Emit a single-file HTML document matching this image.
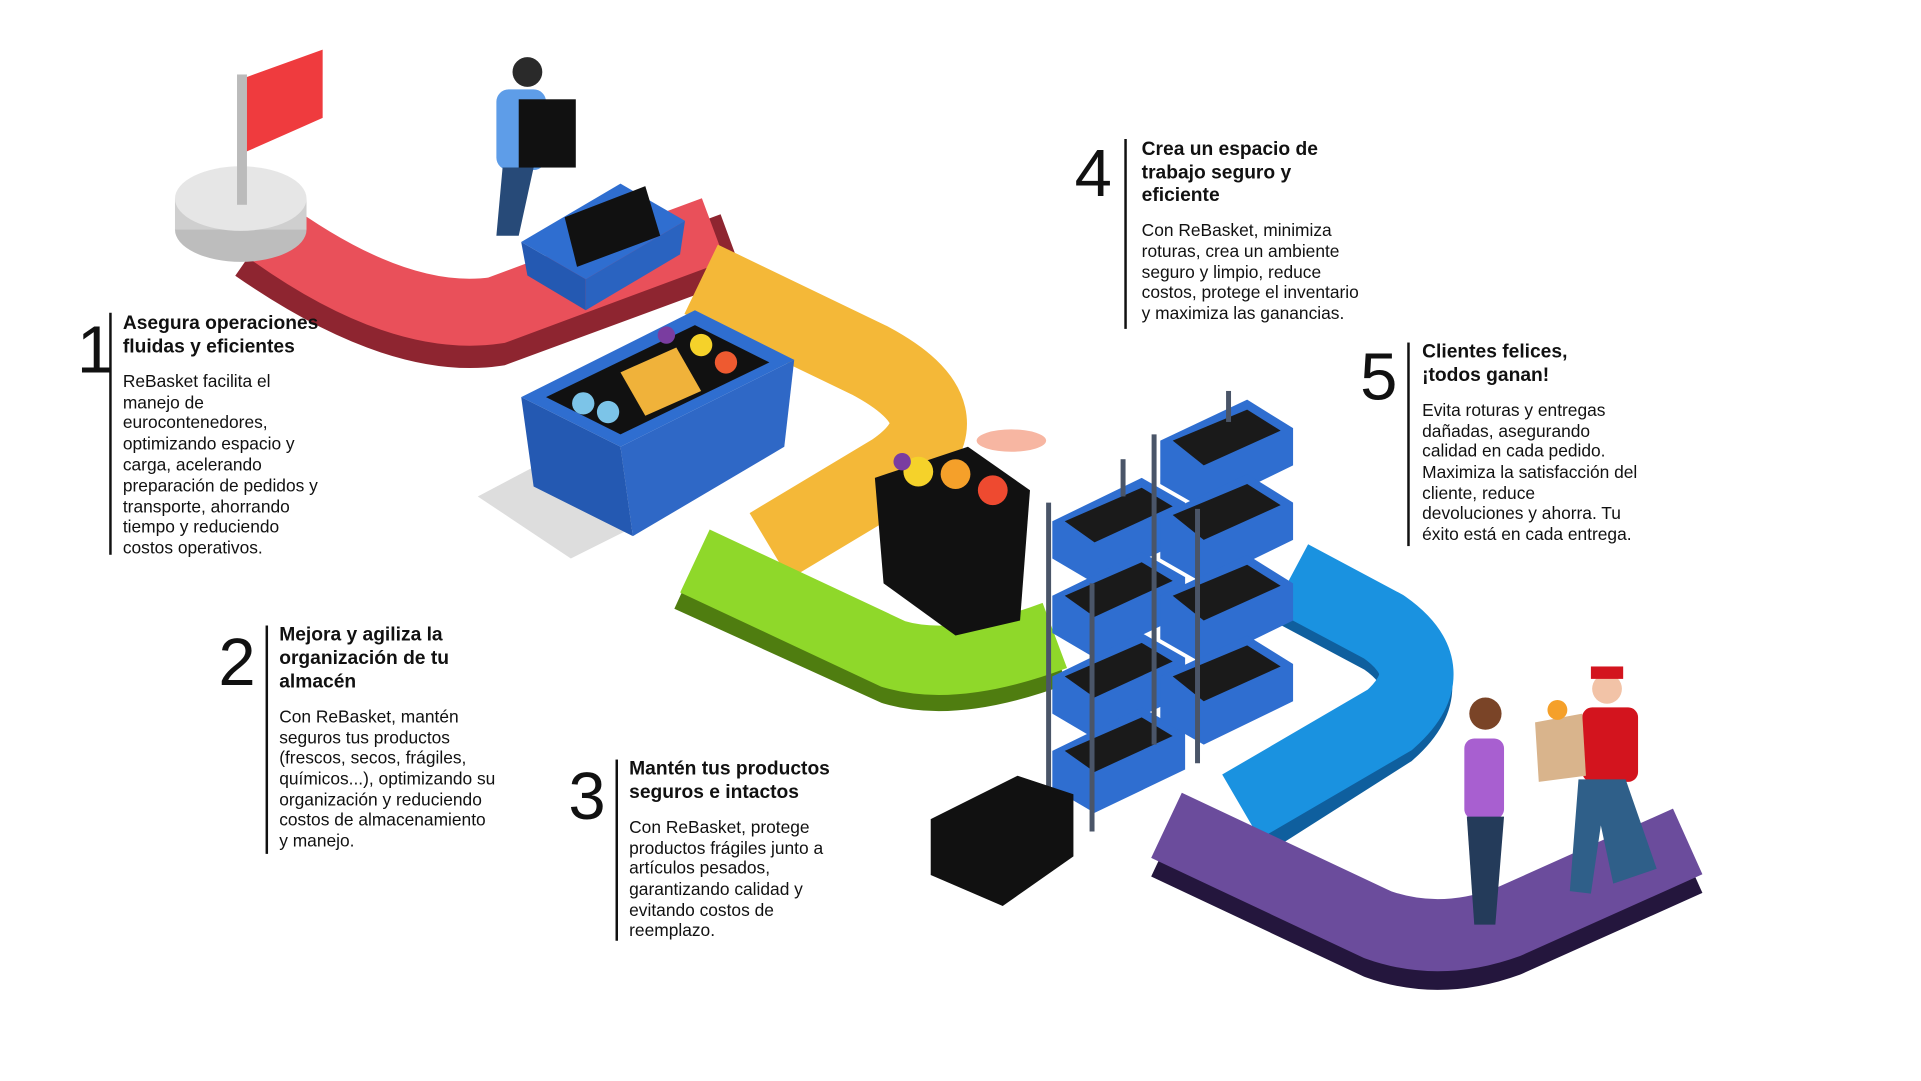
<!DOCTYPE html>
<html><head><meta charset="utf-8"><style>
html,body{margin:0;padding:0;background:#fff;overflow:hidden}
svg{display:block}
text{font-family:"Liberation Sans",sans-serif;fill:#111}
.h{font-weight:bold;font-size:15.5px}
.b{font-size:14px}
.n{font-size:54px}
</style></head><body>
<svg width="1921" height="1081" viewBox="0 0 1548 871" preserveAspectRatio="none" xmlns="http://www.w3.org/2000/svg">
<rect width="1548" height="871" fill="#fff"/>
<!-- red road -->
<path d="M205 200 Q 320 280 400 268 L 590 198" fill="none" stroke="#8e2530" stroke-width="54"/>
<path d="M212 183 Q 320 262 400 250 L 575 185" fill="none" stroke="#e9505a" stroke-width="54"/>
<!-- yellow -->
<path d="M565 225 L 700 290 Q 785 335 720 380 L 620 440" fill="none" stroke="#f4b838" stroke-width="62"/>
<!-- green -->
<path d="M555 465 L 720 540 Q 770 555 850 525" fill="none" stroke="#4f7d10" stroke-width="56"/>
<path d="M560 452 L 720 527 Q 770 542 850 512" fill="none" stroke="#8fd82a" stroke-width="56"/>
<!-- blue -->
<path d="M1040 475 L 1115 515 Q 1165 550 1120 590 L 1010 660" fill="none" stroke="#0f5f9e" stroke-width="58"/>
<path d="M1040 465 L 1115 505 Q 1165 540 1120 580 L 1000 650" fill="none" stroke="#1a92e0" stroke-width="60"/>
<!-- purple -->
<path d="M940 680 L 1110 760 Q 1160 778 1215 758 L 1360 693" fill="none" stroke="#24163d" stroke-width="58"/>
<path d="M940 665 L 1110 745 Q 1160 763 1215 743 L 1360 678" fill="none" stroke="#6b4c9c" stroke-width="58"/>
<!-- flag pedestal -->
<ellipse cx="194" cy="185" rx="53" ry="26" fill="#bdbdbd"/>
<rect x="141" y="160" width="106" height="25" fill="#cfcfcf"/>
<ellipse cx="194" cy="160" rx="53" ry="26" fill="#e6e6e6"/>
<rect x="191" y="60" width="8" height="105" fill="#bbb"/>
<polygon points="199,62 260,40 260,95 199,122" fill="#ef3b3e"/>
<!-- person 1 -->
<circle cx="425" cy="58" r="12" fill="#2a2a2a"/>
<rect x="400" y="72" width="40" height="65" rx="10" fill="#5e9de8"/>
<polygon points="405,135 430,135 418,190 400,190" fill="#274a78"/>
<rect x="418" y="80" width="46" height="55" fill="#111"/>
<!-- crate on red -->
<polygon points="420,195 500,148 552,178 472,225" fill="#2f6ed0"/>
<polygon points="420,195 472,225 472,250 425,222" fill="#2459b2"/>
<polygon points="472,225 552,178 548,205 472,250" fill="#2a63c0"/>
<polygon points="455,175 520,150 532,190 465,215" fill="#111"/>
<!-- big crate -->
<polygon points="385,400 460,450 560,400 480,350" fill="#ddd"/>
<polygon points="420,320 560,250 640,290 500,360" fill="#2f6ed0"/>
<polygon points="420,320 500,360 510,432 430,392" fill="#2459b2"/>
<polygon points="500,360 640,290 632,360 510,432" fill="#2f68c6"/>
<polygon points="440,320 560,262 620,292 500,350" fill="#111"/>
<polygon points="500,300 545,280 565,315 520,335" fill="#f0b23a"/>
<circle cx="470" cy="325" r="9" fill="#7cc4e8"/><circle cx="490" cy="332" r="9" fill="#7cc4e8"/>
<circle cx="565" cy="278" r="9" fill="#f5d22a"/><circle cx="585" cy="292" r="9" fill="#ee5a30"/>
<circle cx="537" cy="270" r="7" fill="#7a3da0"/>
<!-- center basket -->
<polygon points="705,385 780,360 830,395 822,500 770,512 712,470" fill="#111"/>
<circle cx="740" cy="380" r="12" fill="#f5d22a"/><circle cx="770" cy="382" r="12" fill="#f5a02a"/><circle cx="800" cy="395" r="12" fill="#ee4a30"/>
<circle cx="727" cy="372" r="7" fill="#7a3da0"/>
<ellipse cx="815" cy="355" rx="28" ry="9" fill="#f7b6a2"/>
<!-- shelves -->
<g fill="#2f6ed0">
<polygon points="848,420 920,385 955,405 955,435 882,470 848,450"/>
<polygon points="848,480 920,445 955,465 955,495 882,530 848,510"/>
<polygon points="848,545 920,510 955,530 955,560 882,595 848,575"/>
<polygon points="848,605 920,570 955,590 955,620 882,655 848,635"/>
<polygon points="935,355 1005,322 1042,345 1042,375 970,410 935,390"/>
<polygon points="935,415 1005,382 1042,405 1042,435 970,470 935,450"/>
<polygon points="935,480 1005,447 1042,470 1042,500 970,535 935,515"/>
<polygon points="935,545 1005,512 1042,535 1042,565 970,600 935,580"/>
</g>
<g fill="#1a1a1a">
<polygon points="858,420 920,393 945,408 882,437"/><polygon points="858,480 920,453 945,468 882,497"/>
<polygon points="858,545 920,518 945,533 882,562"/><polygon points="858,605 920,578 945,593 882,622"/>
<polygon points="945,355 1005,330 1032,347 970,375"/><polygon points="945,415 1005,390 1032,407 970,435"/>
<polygon points="945,480 1005,455 1032,472 970,500"/><polygon points="945,545 1005,520 1032,537 970,565"/>
</g>
<g stroke="#4a5568" stroke-width="4"><line x1="845" y1="405" x2="845" y2="660"/><line x1="880" y1="470" x2="880" y2="670"/><line x1="930" y1="350" x2="930" y2="600"/><line x1="965" y1="410" x2="965" y2="615"/><line x1="905" y1="370" x2="905" y2="400"/><line x1="990" y1="315" x2="990" y2="340"/></g>
<!-- stacked baskets -->
<polygon points="750,660 820,625 865,640 865,690 808,730 750,705" fill="#111"/>
<!-- people -->
<circle cx="1197" cy="575" r="13" fill="#7a4427"/>
<rect x="1180" y="595" width="32" height="65" rx="8" fill="#a85fd0"/>
<polygon points="1182,658 1212,658 1205,745 1188,745" fill="#243b5a"/>
<circle cx="1295" cy="555" r="12" fill="#f2c3a7"/><rect x="1282" y="537" width="26" height="10" fill="#d3141e"/>
<rect x="1275" y="570" width="45" height="60" rx="8" fill="#d3141e"/>
<polygon points="1272,628 1310,628 1335,700 1300,712 1290,665 1282,720 1265,718" fill="#2f5f89"/>
<polygon points="1237,582 1275,575 1278,625 1240,630" fill="#d9b48c"/>
<circle cx="1255" cy="572" r="8" fill="#f5a02a"/>
<!-- text 1 -->
<text class="n" x="62" y="300">1</text><rect x="88" y="252" width="2" height="195" fill="#111"/>
<text class="h" x="99" y="265">Asegura operaciones</text><text class="h" x="99" y="284">fluidas y eficientes</text>
<text class="b"><tspan x="99" y="312">ReBasket facilita el</tspan><tspan x="99" y="329">manejo de</tspan><tspan x="99" y="345">eurocontenedores,</tspan><tspan x="99" y="362">optimizando espacio y</tspan><tspan x="99" y="379">carga, acelerando</tspan><tspan x="99" y="396">preparación de pedidos y</tspan><tspan x="99" y="413">transporte, ahorrando</tspan><tspan x="99" y="429">tiempo y reduciendo</tspan><tspan x="99" y="446">costos operativos.</tspan></text>
<!-- text 2 -->
<text class="n" x="176" y="552">2</text><rect x="214" y="504" width="2" height="184" fill="#111"/>
<text class="h" x="225" y="516">Mejora y agiliza la</text><text class="h" x="225" y="535">organización de tu</text><text class="h" x="225" y="554">almacén</text>
<text class="b"><tspan x="225" y="582">Con ReBasket, mantén</tspan><tspan x="225" y="599">seguros tus productos</tspan><tspan x="225" y="615">(frescos, secos, frágiles,</tspan><tspan x="225" y="632">químicos...), optimizando su</tspan><tspan x="225" y="649">organización y reduciendo</tspan><tspan x="225" y="665">costos de almacenamiento</tspan><tspan x="225" y="682">y manejo.</tspan></text>
<!-- text 3 -->
<text class="n" x="458" y="660">3</text><rect x="496" y="612" width="2" height="146" fill="#111"/>
<text class="h" x="507" y="624">Mantén tus productos</text><text class="h" x="507" y="643">seguros e intactos</text>
<text class="b"><tspan x="507" y="671">Con ReBasket, protege</tspan><tspan x="507" y="688">productos frágiles junto a</tspan><tspan x="507" y="704">artículos pesados,</tspan><tspan x="507" y="721">garantizando calidad y</tspan><tspan x="507" y="738">evitando costos de</tspan><tspan x="507" y="754">reemplazo.</tspan></text>
<!-- text 4 -->
<text class="n" x="866" y="158">4</text><rect x="906" y="112" width="2" height="153" fill="#111"/>
<text class="h" x="920" y="125">Crea un espacio de</text><text class="h" x="920" y="144">trabajo seguro y</text><text class="h" x="920" y="162">eficiente</text>
<text class="b"><tspan x="920" y="190">Con ReBasket, minimiza</tspan><tspan x="920" y="207">roturas, crea un ambiente</tspan><tspan x="920" y="224">seguro y limpio, reduce</tspan><tspan x="920" y="240">costos, protege el inventario</tspan><tspan x="920" y="257">y maximiza las ganancias.</tspan></text>
<!-- text 5 -->
<text class="n" x="1096" y="322">5</text><rect x="1134" y="276" width="2" height="164" fill="#111"/>
<text class="h" x="1146" y="288">Clientes felices,</text><text class="h" x="1146" y="307">¡todos ganan!</text>
<text class="b"><tspan x="1146" y="335">Evita roturas y entregas</tspan><tspan x="1146" y="352">dañadas, asegurando</tspan><tspan x="1146" y="368">calidad en cada pedido.</tspan><tspan x="1146" y="385">Maximiza la satisfacción del</tspan><tspan x="1146" y="402">cliente, reduce</tspan><tspan x="1146" y="418">devoluciones y ahorra. Tu</tspan><tspan x="1146" y="435">éxito está en cada entrega.</tspan></text>
</svg>
</body></html>
